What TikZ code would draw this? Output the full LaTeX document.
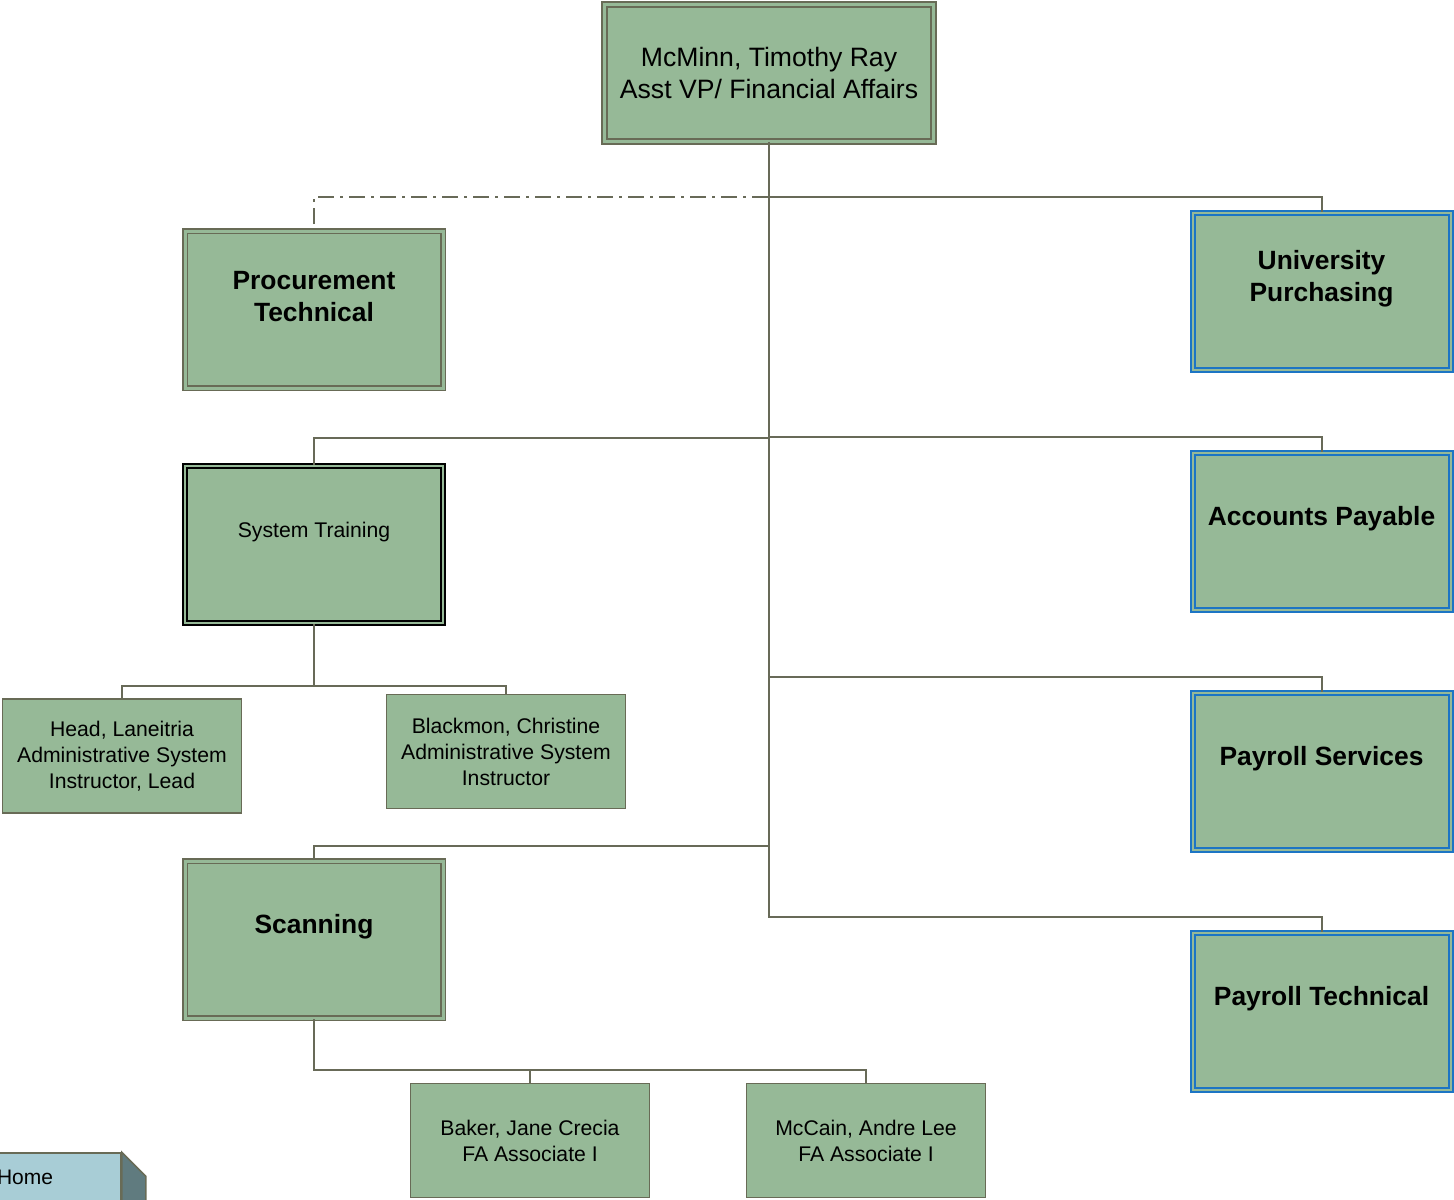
\documentclass[tikz,border=0pt]{standalone}
\usepackage{fontspec}
\setmainfont{Liberation Sans}
\definecolor{boxgreen}{RGB}{150,185,151}
\definecolor{boxline}{RGB}{104,107,86}
\definecolor{linkgrey}{RGB}{104,106,88}
\definecolor{blueline}{RGB}{28,117,196}
\definecolor{homeblue}{RGB}{168,205,214}
\definecolor{homeside}{RGB}{96,123,127}

\begin{document}
\begin{tikzpicture}[x=0.5pt,y=-0.5pt,
  box/.style={rectangle,fill=boxgreen,inner sep=0pt},
  chief/.style={box,draw=boxline,line width=0.9pt,double=boxgreen,double distance=1.5pt,minimum width=164.5pt,minimum height=68.5pt,font=\fontsize{13.3}{16}\selectfont,align=center},
  dept/.style={box,draw=boxline,line width=0.8pt,double=boxgreen,double distance=1.5pt,minimum width=129pt,minimum height=78.5pt},
  deptblue/.style={dept,draw=blueline,line width=1pt,double distance=1pt},
  depttrain/.style={dept,draw=black,line width=0.9pt,double distance=0.9pt},
  tag/.style={font=\fontsize{13.2}{16}\selectfont\bfseries,align=center,yshift=6.5pt},
  tagplain/.style={font=\fontsize{10.6}{13}\selectfont,align=center,yshift=6pt},
  staff/.style={box,draw=boxline,line width=0.8pt,minimum width=119.5pt,minimum height=57pt,font=\fontsize{10.6}{13}\selectfont,align=center},
  link/.style={draw=linkgrey,line width=1pt},
  dotdash/.style={dash pattern=on 8pt off 3pt on 1.5pt off 3pt,dash phase=12.5pt},
  homebtn/.style={rectangle,fill=homeblue,draw=boxline,line width=0.8pt,minimum width=75.5pt,minimum height=24pt,text width=48.5pt,inner xsep=13.5pt,align=left,font=\fontsize{10.5}{12}\selectfont}]
\useasboundingbox (0,0) rectangle (1454,1199);

% boxes
\node [chief] (mcminn) at (769,73) {McMinn, Timothy Ray\\Asst VP/ Financial Affairs};
\node [dept, label={[tag]center:Procurement\\Technical}] (proc) at (314,309.5) {};
\node [depttrain, label={[tagplain]center:System Training}] (train) at (314,544.5) {};
\node [dept, label={[tag]center:Scanning}] (scan) at (314,939.5) {};
\node [deptblue, label={[tag]center:University\\Purchasing}] (purch) at (1321.5,291.5) {};
\node [deptblue, label={[tag]center:Accounts Payable}] (ap) at (1321.5,531.5) {};
\node [deptblue, label={[tag]center:Payroll Services}] (paysvc) at (1321.5,771.5) {};
\node [deptblue, label={[tag]center:Payroll Technical}] (paytech) at (1321.5,1011.5) {};
\node [staff] (head) at (122,756) {Head, Laneitria\\Administrative System\\Instructor, Lead};
\node [staff] (blackmon) at (506,751.5) {Blackmon, Christine\\Administrative System\\Instructor};
\node [staff] (baker) at (530,1140.5) {Baker, Jane Crecia\\FA Associate I};
\node [staff] (mccain) at (866,1140.5) {McCain, Andre Lee\\FA Associate I};

% links
\draw [link,dotdash] (proc.north) -- ++(0,-33) -| (mcminn.south);
\draw [link] (purch.north) -- ++(0,-15) -| (mcminn.south);
\draw [link] (train.north) -- ++(0,-27.5) -| (mcminn.south);
\draw [link] (ap.north) -- ++(0,-15) -| (mcminn.south);
\draw [link] (paysvc.north) -- ++(0,-15) -| (mcminn.south);
\draw [link] (scan.north) -- ++(0,-14.5) -| (mcminn.south);
\draw [link] (paytech.north) -- ++(0,-15) -| (mcminn.south);
\draw [link] (head.north) -- ++(0,-12) -| (train.south);
\draw [link] (blackmon.north) -- ++(0,-8) -| (train.south);
\draw [link] (baker.north) -- ++(0,-13) -| (scan.south);
\draw [link] (mccain.north) -- ++(0,-13) -| (scan.south);

% home button
\node [homebtn] (home) at (45.5,1177) {Home};
\filldraw [fill=homeside,draw=boxline,line width=0.8pt] (home.north east) -- ++(24,24) -- ++(0,40) -| (home.north east) -- cycle;
\end{tikzpicture}
\end{document}
